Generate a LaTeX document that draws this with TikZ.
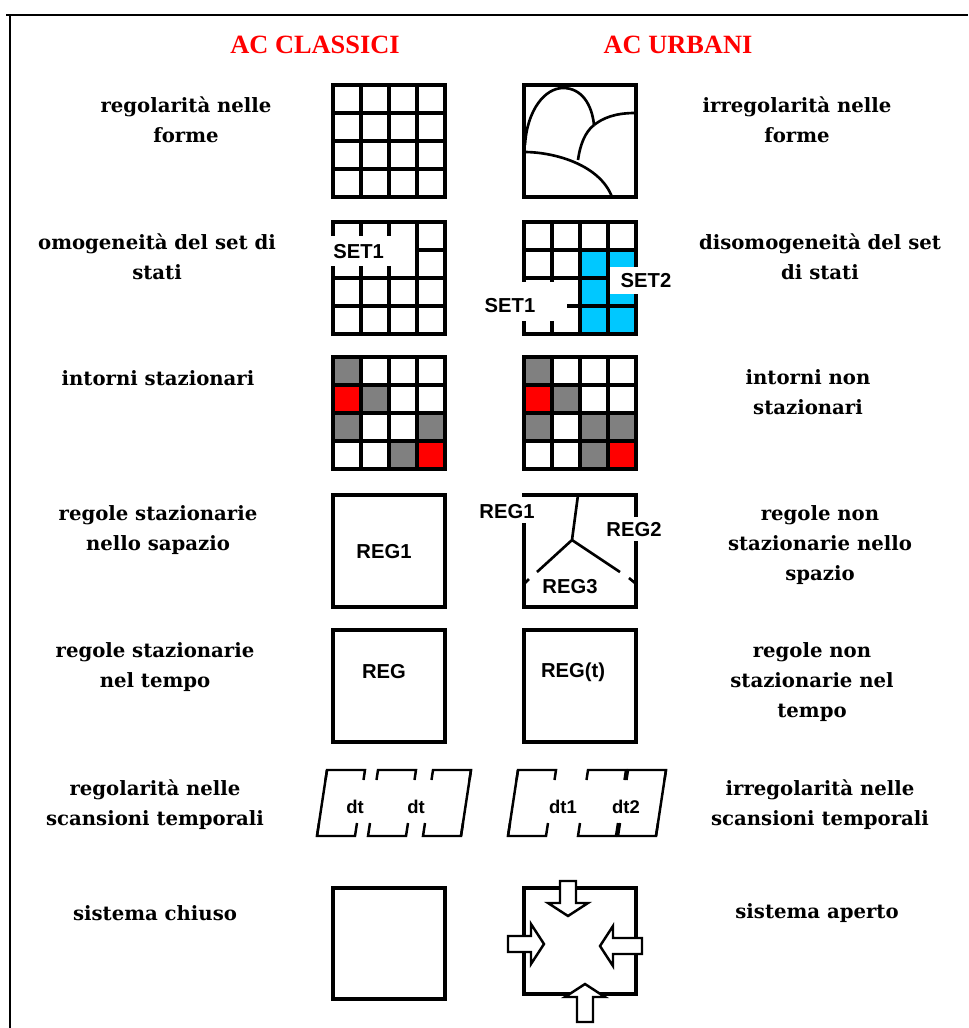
\documentclass[tikz,border=0pt]{standalone}
\usepackage{fontspec}
\setmainfont{DejaVu Serif}
\setsansfont{Liberation Sans}
\newfontfamily\titlefont{Liberation Serif}
\usetikzlibrary{calc}

\definecolor{setblue}{RGB}{0,200,255}
\definecolor{cellgray}{RGB}{128,128,128}
\definecolor{cellred}{RGB}{255,0,0}

\tikzset{
  gridline/.style={line width=1.8pt, line cap=rect},
  boxline/.style={line width=1.8pt, line cap=rect},
  curveline/.style={line width=1.5pt},
  frameline/.style={line width=1.4pt},
  lbl/.style={align=center, inner sep=0pt, font=\bfseries\fontsize{11.2}{17}\selectfont},
  titletext/.style={text=red, inner sep=0pt, font=\titlefont\bfseries\fontsize{15}{18}\selectfont},
  tag/.style={inner sep=0pt, font=\sffamily\bfseries\fontsize{11.5}{13}\selectfont},
  dttag/.style={inner sep=0pt, font=\sffamily\bfseries\fontsize{10.5}{12}\selectfont},
  pics/inarrow/.style={code={\draw[line width=1.4pt, fill=white] (0,0)--(-13,-20)--(-13,-8)--(-#1,-8)--(-#1,8)--(-13,8)--(-13,20)--cycle;}}
}

\newcommand{\gridbox}[2]{%4x4の格子
  \foreach \k in {0,28,56,84,112}{
    \draw[gridline] (#1+\k,#2)--(#1+\k,#2+112);
    \draw[gridline] (#1,#2+\k)--(#1+112,#2+\k);
  }
}
\newcommand{\cell}[5]{\fill[#5] (#1+28*#3,#2+28*#4) rectangle +(28,28);}
\newcommand{\dtframe}[1]{%平行四辺形の上下
  \draw[frameline] (#1-1.5,780)--(#1,770)--(#1+38,770)--(#1+36.5,780);
  \draw[frameline] (#1-8,823)--(#1-10,836)--(#1+28,836)--(#1+30,823);
}

\begin{document}
\begin{tikzpicture}[x=0.02cm, y=-0.02cm]
  \useasboundingbox (0,0) rectangle (968,1028);

  \draw[line width=1.2pt](6,15)--(968,15); %枠
  \draw[line width=1.2pt](10,15)--(10,1028);

  \node[titletext] (tclassic) at (315,45) {AC CLASSICI};
  \node[titletext] (turban) at (678,45) {AC URBANI};

  %1行目
  \gridbox{333}{85}
  \draw[boxline](524,85) rectangle (636,197);
  \draw[curveline](525,145) .. controls (527,110) and (545,88) .. (563,88) .. controls (582,88) and (592,105) .. (594,125);
  \draw[curveline](594,125) .. controls (603,118) and (615,113) .. (635,113);
  \draw[curveline](594,125) .. controls (585,132) and (580,145) .. (578,160);
  \draw[curveline](524,152) .. controls (555,152) and (600,165) .. (612,197);
  \node[lbl] (l1) at (186,120) {regolarità nelle\\forme};
  \node[lbl] (r1) at (797,120) {irregolarità nelle\\forme};

  %2行目
  \gridbox{333}{222}
  \fill[white](330,236) rectangle (415,266);
  \node[tag, anchor=west] (set1a) at (333,252) {SET1};
  \fill[setblue](580,250) rectangle (636,334);
  \gridbox{524}{222}
  \fill[white](521,282) rectangle (567,321);
  \fill[white](610,267) rectangle (682,294);
  \node[tag] (set1b) at (510,306) {SET1};
  \node[tag] (set2) at (646,281) {SET2};
  \node[lbl] (l2) at (157,257) {omogeneità del set di\\stati};
  \node[lbl] (r2) at (820,257) {disomogeneità del set\\di stati};

  %3行目
  \cell{333}{357}{0}{0}{cellgray} \cell{333}{357}{0}{1}{cellred} \cell{333}{357}{1}{1}{cellgray}
  \cell{333}{357}{0}{2}{cellgray} \cell{333}{357}{3}{2}{cellgray} \cell{333}{357}{2}{3}{cellgray}
  \cell{333}{357}{3}{3}{cellred}
  \gridbox{333}{357}
  \cell{524}{357}{0}{0}{cellgray} \cell{524}{357}{0}{1}{cellred} \cell{524}{357}{1}{1}{cellgray}
  \cell{524}{357}{0}{2}{cellgray} \cell{524}{357}{2}{2}{cellgray} \cell{524}{357}{3}{2}{cellgray}
  \cell{524}{357}{2}{3}{cellgray} \cell{524}{357}{3}{3}{cellred}
  \gridbox{524}{357}
  \node[lbl] (l3) at (158,378) {intorni stazionari};
  \node[lbl] (r3) at (808,392) {intorni non\\stazionari};

  %4行目
  \draw[boxline](333,495) rectangle (445,607);
  \node[tag] (reg1a) at (384,552) {REG1};
  \draw[boxline](524,495)--(636,495)--(636,515);
  \draw[boxline](524,525)--(524,607)--(636,607)--(636,543);
  \draw[curveline](578,495)--(572,540)--(537,572);
  \draw[curveline](572,540)--(620,572);
  \draw[curveline](529,579)--(525,583);
  \draw[curveline](629,578)--(635,583);
  \node[tag] (reg1b) at (507,512) {REG1};
  \node[tag] (reg2) at (634,530) {REG2};
  \node[tag] (reg3) at (570,587) {REG3};
  \node[lbl] (l4) at (158,530) {regole stazionarie\\nello sapazio};
  \node[lbl] (r4) at (820,545) {regole non\\stazionarie nello\\spazio};

  %5行目
  \draw[boxline](333,630) rectangle (445,742);
  \draw[boxline](524,630) rectangle (636,742);
  \node[tag] (reg) at (384,672) {REG};
  \node[tag] (regt) at (573,672) {REG(t)};
  \node[lbl] (l5) at (155,667) {regole stazionarie\\nel tempo};
  \node[lbl] (r5) at (812,682) {regole non\\stazionarie nel\\tempo};

  %6行目
  \dtframe{327} \dtframe{378} \dtframe{433}
  \draw[frameline](327,770)--(317,836);
  \draw[frameline](471,770)--(461,836);
  \dtframe{518} \dtframe{588} \dtframe{628}
  \draw[frameline](518,770)--(508,836);
  \draw[frameline](666,770)--(656,836);
  \node[dttag] (dta) at (355,807) {dt};
  \node[dttag] (dtb) at (416,807) {dt};
  \node[dttag] (dt1) at (563,807) {dt1};
  \node[dttag] (dt2) at (626,807) {dt2};
  \node[lbl] (l6) at (155,805) {regolarità nelle\\scansioni temporali};
  \node[lbl] (r6) at (820,805) {irregolarità nelle\\scansioni temporali};

  %7行目
  \draw[boxline](333,888) rectangle (445,999);
  \draw[boxline](524,888) rectangle (636,994);
  \pic[rotate=-90] at (568,916) {inarrow=35};
  \pic at (544,944) {inarrow=36};
  \pic[rotate=180] at (600,946) {inarrow=42};
  \pic[rotate=90] at (585,984) {inarrow=38};
  \node[lbl] (l7) at (155,913) {sistema chiuso};
  \node[lbl] (r7) at (817,913) {sistema aperto};
\end{tikzpicture}
\end{document}
